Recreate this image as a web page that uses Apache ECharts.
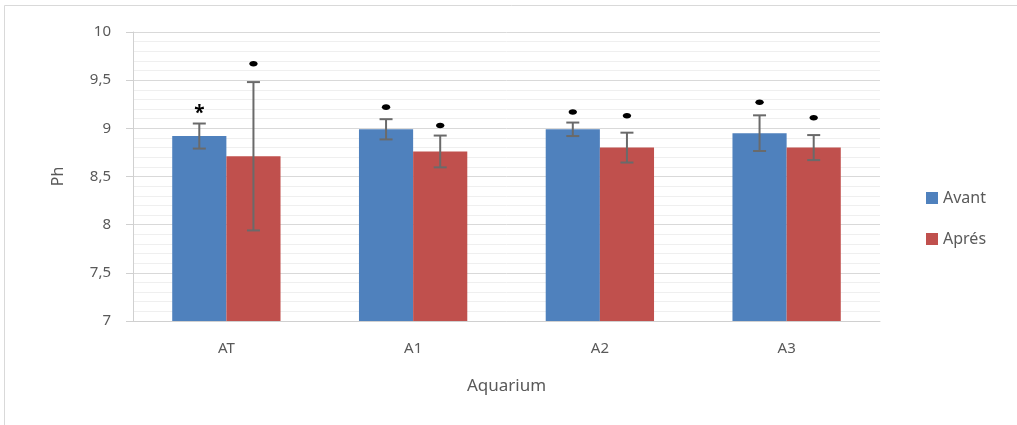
<!DOCTYPE html>
<html>
<head>
<meta charset="utf-8">
<script src="https://cdn.jsdelivr.net/npm/echarts@6/dist/echarts.min.js"></script>
<style>
html,body{margin:0;padding:0;background:#fff;}
#c{width:1017px;height:425px;}
</style>
</head>
<body>
<div id="c"></div>
<script>
var categories = ['AT', 'A1', 'A2', 'A3'];
var seriesNames = ['Avant', 'Aprés'];
var avant = [8.92, 8.99, 8.99, 8.95];
var apres = [8.71, 8.76, 8.80, 8.80];
var avantErr = [0.13, 0.105, 0.07, 0.185];
var apresErr = [0.77, 0.165, 0.155, 0.13];
var avantMarkVal = [9.17, 9.22, 9.17, 9.27];
var apresMarkVal = [9.67, 9.03, 9.13, 9.11];
var avantMarkSym = ['*', '•', '•', '•'];
var apresMarkSym = ['•', '•', '•', '•'];
var yTicks = {min: 7, max: 10, interval: 0.5};

var FONT = '"Noto Sans", "Open Sans", sans-serif';
var BAR_FRAC = 0.29;

function errData(vals, errs) {
  return vals.map(function (v, i) { return [i, v - errs[i], v + errs[i]]; });
}
function markData(vals) {
  return vals.map(function (v, i) { return [i, v]; });
}
function makeErrRender(side) {
  return function (params, api) {
    var idx = api.value(0);
    var lo = api.coord([idx, api.value(1)]);
    var hi = api.coord([idx, api.value(2)]);
    var band = api.size([1, 0])[0];
    var off = side * band * BAR_FRAC / 2;
    var x = lo[0] + off;
    var cap = 6.5;
    var st = {stroke: '#6a6a6a', lineWidth: 2};
    return {
      type: 'group',
      children: [
        {type: 'line', shape: {x1: x, y1: lo[1], x2: x, y2: hi[1]}, style: st},
        {type: 'line', shape: {x1: x - cap, y1: lo[1], x2: x + cap, y2: lo[1]}, style: st},
        {type: 'line', shape: {x1: x - cap, y1: hi[1], x2: x + cap, y2: hi[1]}, style: st}
      ]
    };
  };
}
function makeMarkRender(side) {
  return function (params, api) {
    var idx = api.value(0);
    var p = api.coord([idx, api.value(1)]);
    var band = api.size([1, 0])[0];
    var off = side * band * BAR_FRAC / 2;
    var sym = (side < 0 ? avantMarkSym : apresMarkSym)[idx];
    if (sym === '•') {
      return {
        type: 'ellipse',
        shape: {cx: p[0] + off, cy: p[1], rx: 4.2, ry: 2.8},
        style: {fill: '#000'}
      };
    }
    return {
      type: 'text',
      x: p[0] + off,
      y: p[1] + 2,
      style: {
        text: sym,
        fill: '#000',
        font: 'bold 19px ' + FONT,
        textAlign: 'center',
        textVerticalAlign: 'middle'
      }
    };
  };
}

var chart = echarts.init(document.getElementById('c'));
chart.setOption({
  animation: false,
  backgroundColor: '#fff',
  textStyle: {fontFamily: FONT},
  graphic: [{
    type: 'rect', silent: true, z: -10,
    shape: {x: 4.5, y: 5.5, width: 1040, height: 440},
    style: {fill: 'none', stroke: '#d9d9d9', lineWidth: 1}
  }],
  grid: {left: 133, right: 137, top: 32, bottom: 104, containLabel: false},
  legend: {
    orient: 'vertical',
    left: 921,
    top: 185,
    itemWidth: 12,
    itemHeight: 12,
    itemGap: 25,
    icon: 'rect',
    textStyle: {color: '#595959', fontSize: 16, fontFamily: FONT},
    data: seriesNames
  },
  xAxis: {
    type: 'category',
    data: categories,
    name: 'Aquarium',
    nameLocation: 'middle',
    nameGap: 57,
    nameTextStyle: {color: '#595959', fontSize: 17, fontFamily: FONT},
    axisLine: {lineStyle: {color: '#d0d0d0', width: 1}},
    axisTick: {show: false},
    axisLabel: {color: '#595959', fontSize: 15, margin: 20, fontFamily: FONT},
    splitLine: {show: false}
  },
  yAxis: {
    type: 'value',
    min: yTicks.min,
    max: yTicks.max,
    interval: yTicks.interval,
    name: 'Ph',
    nameLocation: 'middle',
    nameGap: 67,
    nameTextStyle: {color: '#595959', fontSize: 16, fontFamily: FONT},
    axisLine: {show: true, lineStyle: {color: '#d0d0d0'}},
    axisTick: {show: true, length: 7, lineStyle: {color: '#d0d0d0'}},
    axisLabel: {
      color: '#595959', fontSize: 15, margin: 22, fontFamily: FONT,
      formatter: function (v) { return String(v).replace('.', ','); }
    },
    splitLine: {show: true, lineStyle: {color: '#d9d9d9', width: 1}},
    minorTick: {show: false, splitNumber: 5},
    minorSplitLine: {show: true, lineStyle: {color: '#efefef', width: 1}}
  },
  series: [
    {
      name: seriesNames[0], type: 'bar', data: avant,
      barWidth: (BAR_FRAC * 100) + '%', barGap: '0%',
      itemStyle: {color: '#4F81BD'}
    },
    {
      name: seriesNames[1], type: 'bar', data: apres,
      barWidth: (BAR_FRAC * 100) + '%', barGap: '0%',
      itemStyle: {color: '#C0504D'}
    },
    {type: 'custom', renderItem: makeErrRender(-1), data: errData(avant, avantErr), z: 5, encode: {x: 0, y: [1, 2]}},
    {type: 'custom', renderItem: makeErrRender(1), data: errData(apres, apresErr), z: 5, encode: {x: 0, y: [1, 2]}},
    {type: 'custom', renderItem: makeMarkRender(-1), data: markData(avantMarkVal), z: 6, encode: {x: 0, y: 1}},
    {type: 'custom', renderItem: makeMarkRender(1), data: markData(apresMarkVal), z: 6, encode: {x: 0, y: 1}}
  ]
});
</script>
</body>
</html>
